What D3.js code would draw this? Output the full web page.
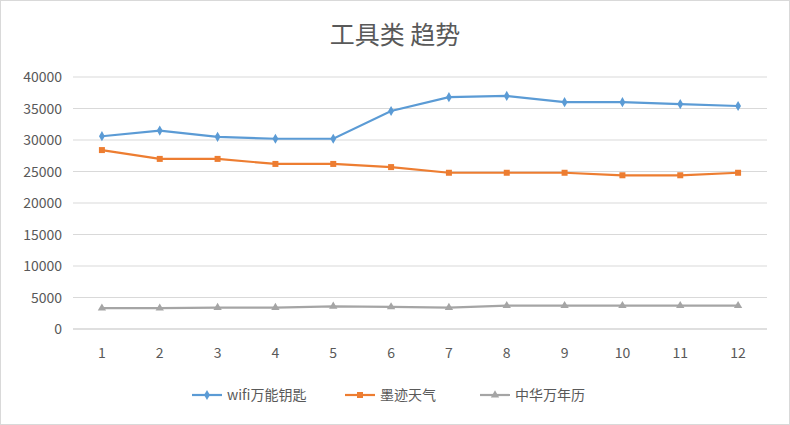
<!DOCTYPE html>
<html><head><meta charset="utf-8">
<script src="https://cdn.jsdelivr.net/npm/d3@7"></script>
<style>body{margin:0;background:#fff}svg{font-family:"Noto Sans CJK SC","Noto Sans",sans-serif}</style>
</head><body><div id="chart"></div>
<script>
const months = [1,2,3,4,5,6,7,8,9,10,11,12];
const wifi = [30600,31500,30500,30200,30200,34600,36800,37000,36000,36000,35700,35400];
const moji = [28400,27000,27000,26200,26200,25700,24800,24800,24800,24400,24400,24800];
const zhwnl = [3300,3300,3400,3400,3600,3500,3400,3700,3700,3700,3700,3700];
const yTicks = [0,5000,10000,15000,20000,25000,30000,35000,40000];
const series = [
  {name:"wifi万能钥匙", values:wifi, color:"#5b9bd5", shape:"diamond"},
  {name:"墨迹天气", values:moji, color:"#ed7d31", shape:"square"},
  {name:"中华万年历", values:zhwnl, color:"#a5a5a5", shape:"triangle"}
];

const W = 790, H = 425;
const svg = d3.select("#chart").append("svg").attr("width", W).attr("height", H);
svg.append("rect").attr("x",0.5).attr("y",0.5).attr("width",W-1).attr("height",H-1)
  .attr("fill","#fff").attr("stroke","#d9d9d9");

svg.append("text").attr("x",395).attr("y",44).attr("text-anchor","middle")
  .attr("font-size",25).attr("fill","#595959").text("工具类 趋势");

const plotL = 73, plotR = 767, plotT = 77, plotB = 329;
const x = d3.scalePoint().domain(months).range([plotL, plotR]).padding(0.5);
const y = d3.scaleLinear().domain([0,40000]).range([plotB, plotT]);

svg.append("g").selectAll("line").data(yTicks).join("line")
  .attr("x1",plotL).attr("x2",plotR).attr("y1",d=>y(d)).attr("y2",d=>y(d))
  .attr("stroke",d=>d===0?"#bfbfbf":"#d9d9d9");

svg.append("g").selectAll("text").data(yTicks).join("text")
  .attr("x",62).attr("y",d=>y(d)+5).attr("text-anchor","end")
  .attr("font-size",14).attr("fill","#595959").text(d=>d);

svg.append("g").selectAll("text").data(months).join("text")
  .attr("x",d=>x(d)).attr("y",358).attr("text-anchor","middle")
  .attr("font-size",14).attr("fill","#595959").text(d=>d);

const sym = {diamond:d3.symbolDiamond, square:d3.symbolSquare, triangle:d3.symbolTriangle};
const line = d3.line().x((d,i)=>x(months[i])).y(d=>y(d));
series.forEach(s => {
  svg.append("path").datum(s.values).attr("fill","none")
    .attr("stroke",s.color).attr("stroke-width",2.2).attr("d",line);
  svg.append("g").selectAll("path").data(s.values).join("path")
    .attr("transform",(d,i)=>`translate(${x(months[i])},${y(d)})`)
    .attr("d",d3.symbol().type(sym[s.shape]).size(s.shape==="square"?36:30))
    .attr("fill",s.color);
});

const leg = [{x:192},{x:345},{x:480}];
series.forEach((s,i)=>{
  const g = svg.append("g").attr("transform",`translate(${leg[i].x},395)`);
  g.append("line").attr("x1",0).attr("x2",30).attr("stroke",s.color).attr("stroke-width",2.2);
  g.append("path").attr("transform","translate(15,0)")
    .attr("d",d3.symbol().type(sym[s.shape]).size(s.shape==="square"?36:30)).attr("fill",s.color);
  g.append("text").attr("x",35).attr("y",5).attr("font-size",14).attr("fill","#595959").text(s.name);
});
</script></body></html>
